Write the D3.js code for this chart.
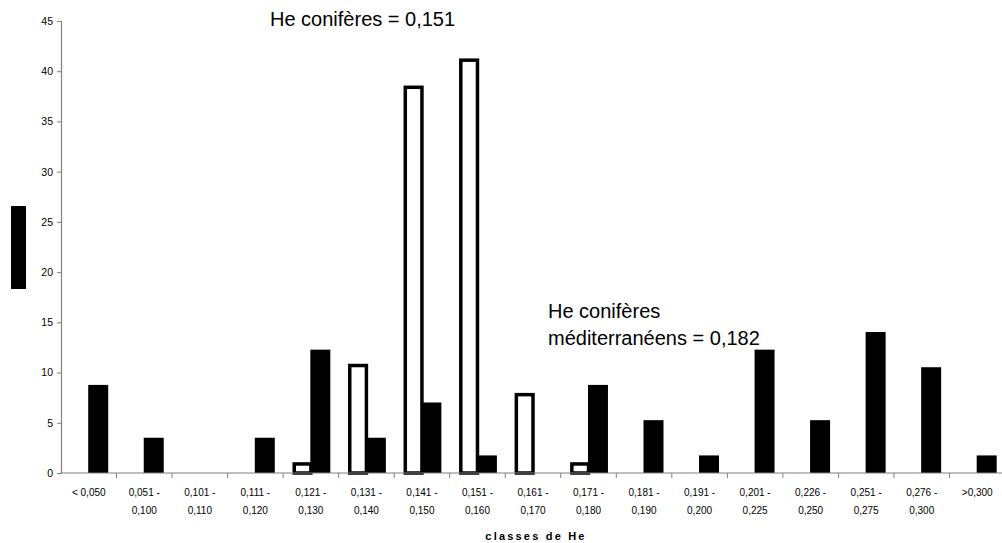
<!DOCTYPE html>
<html>
<head>
<meta charset="utf-8">
<script src="https://cdn.jsdelivr.net/npm/d3@7"></script>
<style>
  body { margin: 0; background: #fff; }
  text { font-family: "Liberation Sans", Arial, sans-serif; }
</style>
</head>
<body>
<div id="chart"></div>
<script>
// classes de He (two-line tick labels)
var classes = [
  ["< 0,050", ""], ["0,051 -", "0,100"], ["0,101 -", "0,110"], ["0,111 -", "0,120"],
  ["0,121 -", "0,130"], ["0,131 -", "0,140"], ["0,141 -", "0,150"], ["0,151 -", "0,160"],
  ["0,161 -", "0,170"], ["0,171 -", "0,180"], ["0,181 -", "0,190"], ["0,191 -", "0,200"],
  ["0,201 -", "0,225"], ["0,226 -", "0,250"], ["0,251 -", "0,275"], ["0,276 -", "0,300"],
  [">0,300", ""]
];
// conifères (white bars)
var coniferes = [0, 0, 0, 0, 0.9, 10.7, 38.4, 41.1, 7.8, 0.9, 0, 0, 0, 0, 0, 0, 0];
// conifères méditerranéens (black bars)
var mediterraneens = [8.77, 3.51, 0, 3.51, 12.28, 3.51, 7.02, 1.75, 0, 8.77, 5.26, 1.75, 12.28, 5.26, 14.04, 10.53, 1.75];
var yTicks = [0, 5, 10, 15, 20, 25, 30, 35, 40, 45];

var width = 1002, height = 543;
var svg = d3.select("#chart").append("svg").attr("width", width).attr("height", height);

var x = d3.scaleBand().domain(d3.range(classes.length)).range([61, 1005]).padding(0);
var y = d3.scaleLinear().domain([0, 45]).range([473, 21]);
var bw = x.bandwidth();

// bars conifères (outlined)
svg.append("g").selectAll("rect")
  .data(coniferes.map((v, i) => ({v: v, i: i})).filter(d => d.v > 0))
  .enter()
  .append("rect")
  .attr("x", d => x(d.i) + bw * 0.2)
  .attr("y", d => y(d.v))
  .attr("width", bw * 0.3)
  .attr("height", d => y(0) - y(d.v))
  .attr("fill", "#fff")
  .attr("stroke", "#000")
  .attr("stroke-width", 3.5);

// bars méditerranéens (black)
svg.append("g").selectAll("rect")
  .data(mediterraneens)
  .enter()
  .append("rect")
  .attr("x", (d, i) => x(i) + bw * 0.49)
  .attr("y", d => y(d))
  .attr("width", bw * 0.36)
  .attr("height", d => y(0) - y(d))
  .attr("fill", "#000");

// y axis
var yAxis = svg.append("g").attr("transform", "translate(61,0)")
  .call(d3.axisLeft(y).tickValues(yTicks).tickSize(4).tickPadding(4));
yAxis.select(".domain").attr("stroke", "#808080").attr("stroke-width", 1.2);
yAxis.selectAll(".tick line").attr("stroke", "#808080");
yAxis.selectAll(".tick text").style("font-family", "'Liberation Sans', Arial, sans-serif")
  .style("font-size", "10.5px").attr("fill", "#000");

// x axis line + boundary ticks
svg.append("line").attr("x1", 61).attr("x2", 1005).attr("y1", y(0)).attr("y2", y(0))
  .attr("stroke", "#808080").attr("stroke-width", 1.2);
svg.append("g").selectAll("line")
  .data(d3.range(1, classes.length + 1))
  .enter().append("line")
  .attr("x1", d => x.step() * d + 61).attr("x2", d => x.step() * d + 61)
  .attr("y1", y(0)).attr("y2", y(0) + 5)
  .attr("stroke", "#808080");

// x tick labels
var lab = svg.append("g").selectAll("text")
  .data(classes)
  .enter().append("text")
  .attr("x", (d, i) => x(i) + bw / 2)
  .attr("y", 496)
  .attr("text-anchor", "middle")
  .style("font-size", "10px");
lab.append("tspan").attr("x", (d, i) => x(i) + bw / 2).text(d => d[0]);
lab.append("tspan").attr("x", (d, i) => x(i) + bw / 2).attr("dy", 18).text(d => d[1]);

// x axis title
svg.append("text").attr("x", 536).attr("y", 540).attr("text-anchor", "middle")
  .style("font-size", "11px").style("font-weight", "bold").style("letter-spacing", "2.2px")
  .text("classes de He");

// y axis title block
svg.append("rect").attr("x", 11).attr("y", 206).attr("width", 15).attr("height", 83).attr("fill", "#000");

// annotations
svg.append("text").attr("x", 270).attr("y", 26).style("font-size", "20px")
  .text("He conifères = 0,151");
var ann = svg.append("text").attr("x", 548).attr("y", 318).style("font-size", "20px");
ann.append("tspan").attr("x", 548).text("He conifères");
ann.append("tspan").attr("x", 548).attr("dy", 27).text("méditerranéens = 0,182");
</script>
</body>
</html>
